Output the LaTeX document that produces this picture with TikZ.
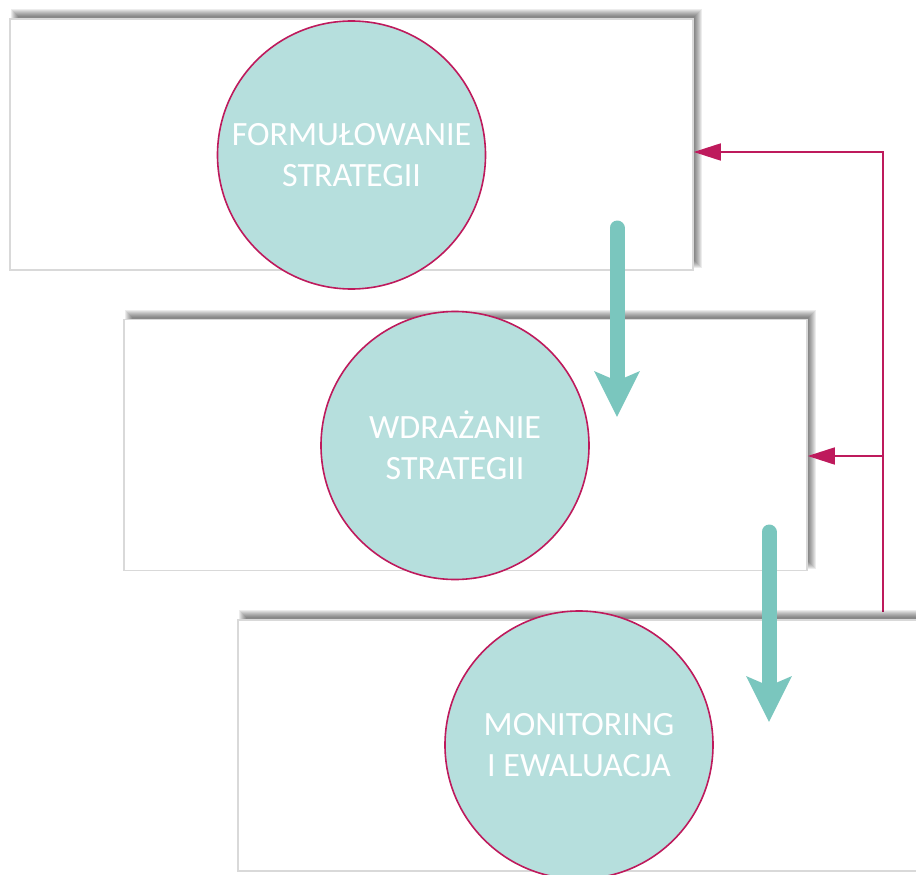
\documentclass[tikz,border=0pt]{standalone}
\usepackage{fontspec}
\setmainfont{Carlito}
\usetikzlibrary{arrows.meta,calc}
\definecolor{teal1}{HTML}{7AC6BE}
\definecolor{circfill}{HTML}{B6DFDD}
\definecolor{mag}{HTML}{BE1A5C}
\definecolor{boxline}{HTML}{D9D9D9}
\tikzset{
  stagebox/.style={draw=boxline, line width=1.5pt, fill=white, rectangle, inner sep=0pt,
    minimum width=683pt, minimum height=251pt},
  softshade/.style={fill=black, opacity=0.075},
  stagecirc/.style={circle, draw=mag, line width=1.6pt, fill=circfill, minimum size=268pt,
    inner sep=0pt, text=white, align=center, font=\fontsize{34}{41}\selectfont},
  flowarrow/.style={draw=teal1, line width=15pt, line cap=round,
    -{Stealth[width=44pt,length=45pt,inset=9pt]}},
  backarrow/.style={draw=mag, line width=1.6pt, -{Triangle[width=17pt,length=27pt]}}
}
\newcommand{\softshadowat}[2]{%
  \foreach \k in {-3,...,4}{%
    \fill[softshade] ($(#1)+(-341.5+5-\k,-125.5-6-\k)$) rectangle ($(#1)+(341.5+5+\k,125.5-6+\k)$);
  }}
\begin{document}
\begin{tikzpicture}[x=1pt,y=-1pt]
\useasboundingbox (0,0) rectangle (916,875);
\coordinate (p1) at (351.5,144.5);
\coordinate (p2) at (465.5,445);
\coordinate (p3) at (579.5,745.5);
\softshadowat{p1}{}
\node[stagebox] (b1) at (p1) {};
\node[stagecirc] (c1) at (351.5,155) {FORMUŁOWANIE\\STRATEGII};
\softshadowat{p2}{}
\node[stagebox] (b2) at (p2) {};
\node[stagecirc] (c2) at (455,445.5) {WDRAŻANIE\\STRATEGII};
\coordinate (a1s) at (617,228);
\coordinate (a1e) at (617,417);
\draw[flowarrow] (a1s) -- (a1e);
\coordinate (fb0) at (883,612);
\coordinate (fb1) at (883,152);
\coordinate (fb2) at (883,456);
\draw[backarrow] (fb0) -- (fb1) -- (fb1 -| b1.east);
\draw[backarrow] (fb2) -- (fb2 -| b2.east);
\softshadowat{p3}{}
\node[stagebox] (b3) at (p3) {};
\node[stagecirc] (c3) at (579,745) {MONITORING\\I EWALUACJA};
\coordinate (a2s) at (769,532);
\coordinate (a2e) at (769,722);
\draw[flowarrow] (a2s) -- (a2e);
\end{tikzpicture}
\end{document}
